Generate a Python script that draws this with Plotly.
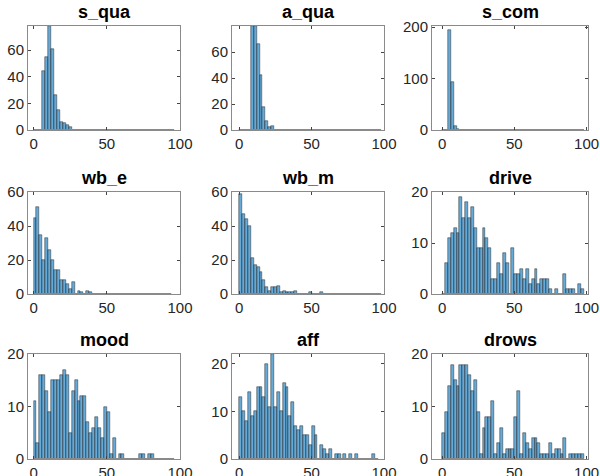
import plotly.graph_objects as go

BIN_WIDTH = 2

titles = ["s_qua", "a_qua", "s_com", "wb_e", "wb_m", "drive", "mood", "aff", "drows"]

s_qua = [0, 0, 0, 44, 55, 78, 61, 26, 15, 6, 5, 4, 2] + [0] * 35
a_qua = [0, 0, 0, 0, 80, 80, 66, 42, 18, 7, 2, 3] + [0] * 37
s_com = [0, 0, 195, 93, 8, 2] + [0] * 43
wb_e = [45, 51, 35, 20, 33, 26, 20, 14, 14, 8, 8, 6, 3, 7, 0, 2, 1, 0, 2, 1] + [0] * 27
wb_m = [59, 47, 44, 40, 21, 17, 16, 13, 8, 4, 2, 4, 4, 5, 1, 2, 1, 1, 1, 2,
        0, 0, 0, 0, 1, 0, 0, 0, 1] + [0] * 20
drive = [0, 6, 11, 12, 13, 12, 19, 15, 18, 15, 17, 13, 9, 9, 13, 11, 9, 3, 3, 6, 4, 8, 6,
         0, 9, 4, 4, 5, 3, 5, 2, 3, 5, 2, 3, 3, 3, 1, 0, 1, 0, 0, 4, 1, 1, 1, 0, 2, 1]
mood = [11, 3, 16, 16, 13, 9, 15, 15, 15, 16, 17, 16, 5, 13, 15, 11, 12, 12, 7, 5, 6, 8, 6, 4,
        10, 9, 1, 4, 0, 1, 1, 0, 0, 0, 0, 0, 1, 1, 0, 1, 1] + [0] * 7
aff = [13, 10, 8, 14, 9, 10, 15, 15, 13, 20, 11, 22, 11, 14, 10, 16, 15, 9, 12, 7, 6, 7, 5, 5, 3, 7, 5,
       0, 3, 2, 1, 2, 0, 1, 1, 0, 1, 0, 1, 0, 1, 0, 0, 0, 0, 0, 1, 0]
drows = [5, 9, 14, 18, 15, 14, 18, 18, 18, 16, 13, 15, 9, 1, 6, 8, 8, 11, 1, 3, 6, 1, 2, 2, 2, 8, 13,
         1, 5, 3, 2, 4, 4, 3, 1, 1, 1, 3, 1, 2, 2, 1, 4, 0, 1, 1, 1, 1, 1]

series = [s_qua, a_qua, s_com, wb_e, wb_m, drive, mood, aff, drows]

y_max = [78, 80, 202, 60, 60, 20, 20, 22, 20]
y_ticks = [[0, 20, 40, 60], [0, 20, 40, 60], [0, 100, 200], [0, 20, 40, 60], [0, 20, 40, 60],
           [0, 10, 20], [0, 10, 20], [0, 10, 20], [0, 10, 20]]
x_ticks = [0, 50, 100]

W, H = 600, 476
col_px = [(28, 180, -3.8, 100), (232, 384, -5, 100), (432, 588, -7, 101)]
row_px = [(26, 130), (192, 294), (354, 459)]

FONT = "Liberation Sans, Arial, Helvetica"

fig = go.Figure()
layout = dict(
    template="none",
    width=W, height=H, margin=dict(l=0, r=0, t=0, b=0, autoexpand=False),
    paper_bgcolor="white", plot_bgcolor="white", showlegend=False,
    bargap=0, font=dict(family=FONT, size=15, color="#262626"),
    annotations=[],
)

for i, (title, counts) in enumerate(zip(titles, series)):
    r, c = divmod(i, 3)
    x0, x1, xr0, xr1 = col_px[c]
    yt, yb = row_px[r]
    centers = [BIN_WIDTH * k + BIN_WIDTH / 2 for k in range(len(counts))]
    edges = [0, BIN_WIDTH * len(counts)]
    sfx = "" if i == 0 else str(i + 1)
    fig.add_trace(go.Scatter(
        x=edges, y=[0, 0], mode="lines", line=dict(color="#8a8a8a", width=2),
        xaxis="x" + sfx, yaxis="y" + sfx, hoverinfo="skip", cliponaxis=False,
    ))
    fig.add_trace(go.Bar(
        x=centers, y=counts, width=[BIN_WIDTH] * len(counts),
        marker=dict(color="rgba(0,114,189,0.6)", line=dict(color="#2a2a2a", width=0.5)),
        xaxis="x" + sfx, yaxis="y" + sfx,
    ))
    common = dict(
        ticks="inside", ticklen=3, tickcolor="#444", tickwidth=1,
        showline=True, mirror="ticks", linecolor="#8a8a8a", linewidth=1,
        showgrid=False, zeroline=False, automargin=False,
        tickfont=dict(size=15, color="#262626", family=FONT),
    )
    layout["xaxis" + sfx] = dict(
        domain=[x0 / W, x1 / W], range=[xr0, xr1], anchor="y" + sfx,
        tickvals=x_ticks, **common,
    )
    layout["yaxis" + sfx] = dict(
        domain=[(H - yb) / H, (H - yt) / H], range=[0, y_max[i]], anchor="x" + sfx,
        tickvals=y_ticks[i], **common,
    )
    layout["annotations"].append(dict(
        text="<b>" + title + "</b>", xref="paper", yref="paper",
        x=(x0 + x1) / 2 / W, y=(H - (yt - 14)) / H, xanchor="center", yanchor="middle",
        showarrow=False, font=dict(size=18, color="black", family=FONT),
    ))

fig.update_layout(**layout)
fig.write_html(
    "out.html",
    config={"displayModeBar": False},
    post_script="document.body.style.margin='0';document.body.style.overflow='hidden';",
)
